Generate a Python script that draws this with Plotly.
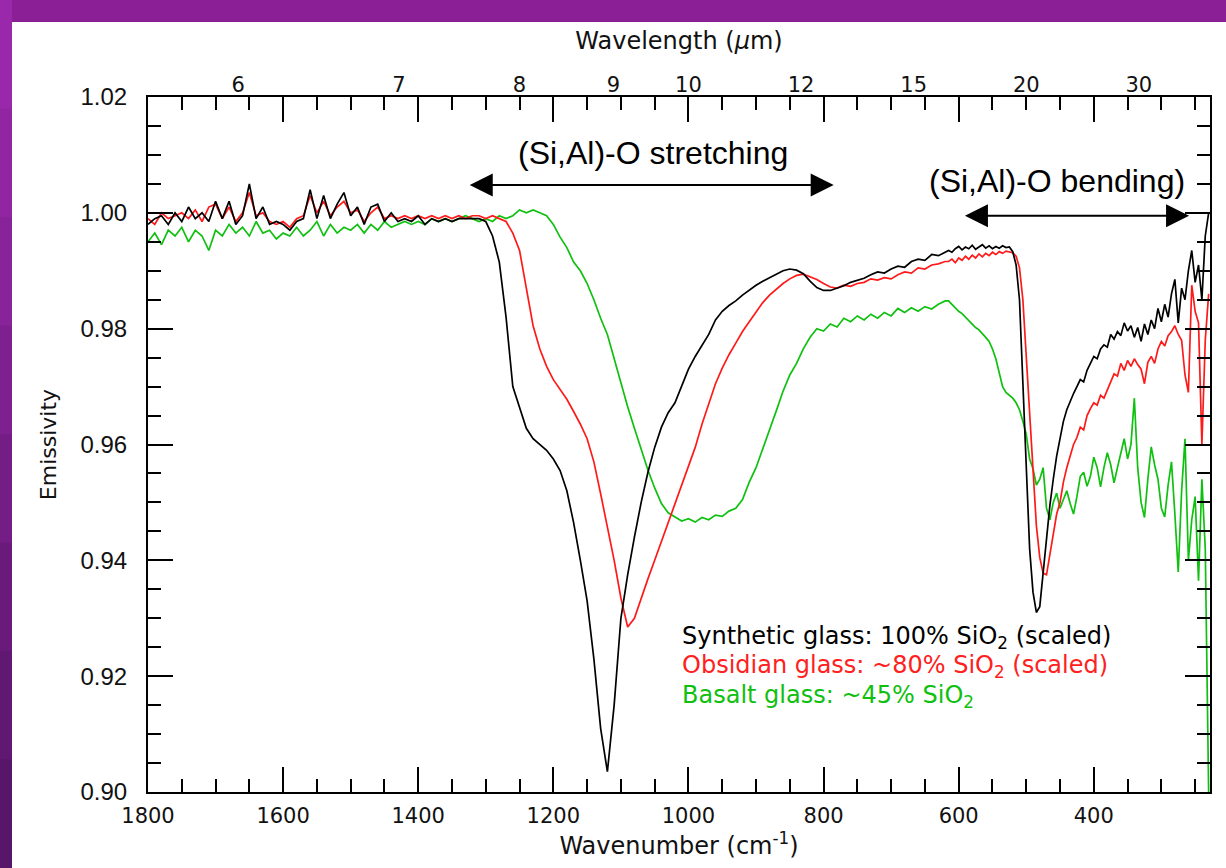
import plotly.graph_objects as go

# ---------------- data ----------------
wavenumber = list(range(1800, 1319, -10)) + list(range(1310, 619, -10)) + list(range(615, 229, -5))

synthetic = [
    # 1800-1320 step 10
    0.998, 0.999, 0.9995, 0.998, 1.000, 0.9985, 1.001, 0.999, 1.000, 0.9985,
    1.002, 0.999, 1.002, 0.998, 0.9995, 1.005, 0.999, 1.001, 0.998, 0.9985,
    0.998, 0.997, 0.9985, 0.999, 1.004, 0.999, 1.003, 0.999, 1.0015, 1.0035,
    0.9995, 1.001, 0.998, 1.001, 1.0015, 0.9985, 1.000, 0.9985, 0.999, 0.9985,
    0.9995, 0.998, 0.999, 0.9985, 0.999, 0.9985, 0.999, 0.999, 0.999,
    # 1310-620 step 10
    0.9990, 0.9985, 0.9960, 0.9915, 0.9820, 0.9700, 0.9665, 0.9628, 0.9610, 0.9600,
    0.9590, 0.9575, 0.9555, 0.9520, 0.9465, 0.9400, 0.9330, 0.9230, 0.9110, 0.9035,
    0.9150, 0.9300, 0.9375, 0.9440, 0.9500, 0.9552, 0.9595, 0.9630, 0.9655, 0.9672,
    0.9700, 0.9730, 0.9752, 0.9772, 0.9790, 0.9815, 0.9830, 0.9840, 0.9848, 0.9858,
    0.9867, 0.9875, 0.9882, 0.9888, 0.9895, 0.9900, 0.9903, 0.9901, 0.9895, 0.9882,
    0.9871, 0.9866, 0.9866, 0.9870, 0.9874, 0.9880, 0.9883, 0.9887, 0.9893, 0.9898,
    0.9896, 0.9903, 0.9908, 0.9906, 0.9916, 0.9920, 0.9918, 0.9928, 0.9926, 0.9932,
    # 615-230 step 5
    0.9935, 0.9932, 0.9938, 0.9942, 0.9936, 0.9941, 0.9938, 0.9944, 0.9937, 0.9941,
    0.9945, 0.9939, 0.9943, 0.9938, 0.9942, 0.9939, 0.9943, 0.9940, 0.9941, 0.9933,
    0.9910, 0.9850, 0.9700, 0.9540, 0.9420, 0.9345, 0.9310, 0.9320, 0.9380, 0.9440,
    0.9495, 0.9540, 0.9580, 0.9610, 0.9640, 0.9660, 0.9675, 0.9688, 0.9700, 0.9712,
    0.9708, 0.9728, 0.9740, 0.9752, 0.9748, 0.9765, 0.9772, 0.9768, 0.9790, 0.9782,
    0.9795, 0.9788, 0.9810, 0.9796, 0.9805, 0.9785, 0.9802, 0.9778, 0.9808, 0.9790,
    0.9815, 0.9800, 0.9835, 0.9812, 0.9842, 0.9820, 0.9860, 0.9885, 0.9810, 0.9870,
    0.9850, 0.9900, 0.9935, 0.9880, 0.9910, 0.9850, 0.9960, 1.0000,
]

obsidian = [
    0.999, 0.998, 1.000, 0.999, 0.9995, 1.000, 0.999, 1.0005, 0.9985, 1.001,
    1.0015, 0.999, 1.001, 0.9985, 1.000, 1.0035, 0.9995, 1.000, 0.9985, 0.998,
    0.9985, 0.9975, 0.999, 0.9995, 1.003, 1.000, 1.002, 0.9995, 1.001, 1.002,
    1.000, 1.0005, 0.9985, 1.000, 1.001, 0.999, 0.9995, 0.999, 0.9995, 0.999,
    0.9995, 0.999, 0.9995, 0.999, 0.9995, 0.999, 0.9995, 0.999, 0.9995,
    0.9995, 0.9990, 0.9995, 0.9990, 0.9985, 0.9965, 0.9935, 0.9870, 0.9805, 0.9765,
    0.9735, 0.9712, 0.9695, 0.9678, 0.9657, 0.9635, 0.9610, 0.9570, 0.9515, 0.9460,
    0.9400, 0.9335, 0.9285, 0.9300, 0.9335, 0.9368, 0.9400, 0.9432, 0.9465, 0.9497,
    0.9528, 0.9560, 0.9595, 0.9635, 0.9672, 0.9705, 0.9732, 0.9755, 0.9775, 0.9795,
    0.9812, 0.9828, 0.9845, 0.9858, 0.9868, 0.9878, 0.9886, 0.9892, 0.9894, 0.9889,
    0.9885, 0.9878, 0.9872, 0.9870, 0.9875, 0.9873, 0.9878, 0.9880, 0.9886, 0.9884,
    0.9888, 0.9886, 0.9893, 0.9898, 0.9896, 0.9905, 0.9903, 0.9910, 0.9912, 0.9916,
    0.9916, 0.9920, 0.9914, 0.9922, 0.9918, 0.9925, 0.9920, 0.9927, 0.9922, 0.9929,
    0.9924, 0.9930, 0.9926, 0.9932, 0.9928, 0.9933, 0.9930, 0.9934, 0.9932, 0.9931,
    0.9925, 0.9905, 0.9850, 0.9750, 0.9640, 0.9540, 0.9460, 0.9405, 0.9378, 0.9375,
    0.9410, 0.9445, 0.9480, 0.9500, 0.9535, 0.9560, 0.9580, 0.9600, 0.9612, 0.9630,
    0.9625, 0.9650, 0.9662, 0.9672, 0.9668, 0.9685, 0.9680, 0.9695, 0.9710, 0.9722,
    0.9718, 0.9740, 0.9728, 0.9745, 0.9735, 0.9748, 0.9738, 0.9730, 0.9705, 0.9742,
    0.9752, 0.9740, 0.9765, 0.9778, 0.9770, 0.9788, 0.9795, 0.9805, 0.9790, 0.9780,
    0.9720, 0.9690, 0.9875, 0.9830, 0.9810, 0.9600, 0.9780, 0.9860,
]

basalt = [
    0.995, 0.9965, 0.9945, 0.997, 0.996, 0.9975, 0.995, 0.997, 0.996, 0.9935,
    0.997, 0.996, 0.998, 0.9965, 0.9975, 0.996, 0.9985, 0.9965, 0.997, 0.9955,
    0.9965, 0.996, 0.9975, 0.996, 0.997, 0.9985, 0.996, 0.998, 0.9965, 0.9975,
    0.997, 0.998, 0.9965, 0.998, 0.997, 0.9985, 0.9975, 0.998, 0.9985, 0.998,
    0.9985, 0.998, 0.999, 0.9985, 0.999, 0.9985, 0.999, 0.9995, 0.999,
    0.9985, 0.9990, 0.9985, 0.9995, 0.9990, 0.9995, 1.0005, 1.0000, 1.0005, 1.0000,
    0.9995, 0.9980, 0.9958, 0.9940, 0.9915, 0.9900, 0.9878, 0.9850, 0.9818, 0.9790,
    0.9748, 0.9710, 0.9665, 0.9628, 0.9590, 0.9556, 0.9525, 0.9498, 0.9482, 0.9475,
    0.9468, 0.9472, 0.9466, 0.9474, 0.9470, 0.9478, 0.9476, 0.9485, 0.9490, 0.9505,
    0.9535, 0.9560, 0.9592, 0.9625, 0.9658, 0.9692, 0.9720, 0.9740, 0.9765, 0.9785,
    0.9800, 0.9796, 0.9808, 0.9803, 0.9818, 0.9812, 0.9822, 0.9815, 0.9825, 0.9818,
    0.9828, 0.9822, 0.9835, 0.9828, 0.9836, 0.9830, 0.9838, 0.9834, 0.9842, 0.9848,
    0.9848, 0.9842, 0.9836, 0.9830, 0.9826, 0.9820, 0.9815, 0.9808, 0.9802, 0.9798,
    0.9792, 0.9785, 0.9778, 0.9765, 0.9748, 0.9725, 0.9700, 0.9690, 0.9685, 0.9680,
    0.9672, 0.9660, 0.9640, 0.9618, 0.9575, 0.9558, 0.9530, 0.9540, 0.9560, 0.9490,
    0.9470, 0.9500, 0.9516, 0.9490, 0.9505, 0.9520, 0.9498, 0.9480, 0.9510, 0.9545,
    0.9552, 0.9528, 0.9545, 0.9578, 0.9560, 0.9527, 0.9560, 0.9586, 0.9565, 0.9534,
    0.9560, 0.9585, 0.9610, 0.9575, 0.9600, 0.9680, 0.9560, 0.9500, 0.9474, 0.9540,
    0.9596, 0.9565, 0.9540, 0.9490, 0.9475, 0.9530, 0.9570, 0.9480, 0.9380, 0.9520,
    0.9610, 0.9400, 0.9470, 0.9510, 0.9365, 0.9540, 0.9420, 0.9000,
]

wavelength_ticks = [6, 7, 8, 9, 10, 12, 15, 20, 30]
wavenumber_ticks = [1800, 1600, 1400, 1200, 1000, 800, 600, 400]
legend_lines = [
    ("Synthetic glass: 100% SiO<sub>2</sub> (scaled)", "#000000"),
    ("Obsidian glass: ~80% SiO<sub>2</sub> (scaled)", "#ff2020"),
    ("Basalt glass: ~45% SiO<sub>2</sub>", "#10c010"),
]

# ---------------- figure ----------------
W, H = 1226, 868
ML, MR, MT, MB = 148, 16, 97, 76
XR = [1800, 228]
YR = [0.90, 1.02]

fig = go.Figure()
fig.add_trace(go.Scatter(x=wavenumber, y=basalt, mode="lines",
                         line=dict(color="#10c010", width=1.7), hoverinfo="skip"))
fig.add_trace(go.Scatter(x=wavenumber, y=obsidian, mode="lines",
                         line=dict(color="#ff1a1a", width=1.7), hoverinfo="skip"))
fig.add_trace(go.Scatter(x=wavenumber, y=synthetic, mode="lines",
                         line=dict(color="#000000", width=1.7), hoverinfo="skip"))
fig.add_trace(go.Scatter(x=[], y=[], xaxis="x2", mode="lines", hoverinfo="skip"))

tick_font = dict(family="DejaVu Sans", size=21, color="#111")
title_font = dict(family="DejaVu Sans", size=24, color="#111")

fig.update_layout(
    width=W, height=H,
    margin=dict(l=ML, r=MR, t=MT, b=MB),
    paper_bgcolor="white", plot_bgcolor="white",
    showlegend=False,
    xaxis=dict(
        range=XR, tickmode="array", tickvals=wavenumber_ticks,
        ticks="inside", ticklen=25, tickwidth=1.5, tickcolor="black",
        minor=dict(tick0=0, dtick=50, ticks="inside", ticklen=13, tickwidth=1.5, tickcolor="black"),
        showline=True, linecolor="black", linewidth=2, mirror="ticks",
        showgrid=False, zeroline=False,
        tickfont=tick_font, ticklabelstandoff=4,
        title=dict(text="Wavenumber (cm<sup>-1</sup>)", font=title_font, standoff=3),
        automargin=False,
    ),
    xaxis2=dict(
        range=XR, overlaying="x", side="top", anchor="y",
        tickmode="array", tickvals=[10000 / l for l in wavelength_ticks],
        ticktext=[str(l) for l in wavelength_ticks],
        ticks="", showline=False, showgrid=False, zeroline=False,
        tickfont=tick_font,
        title=dict(text="Wavelength (<i>µ</i>m)", font=title_font, standoff=16),
        automargin=False,
    ),
    yaxis=dict(
        range=YR, tickmode="linear", tick0=0.90, dtick=0.02, tickformat=".2f",
        ticks="inside", ticklen=25, tickwidth=1.5, tickcolor="black",
        minor=dict(dtick=0.005, ticks="inside", ticklen=13, tickwidth=1.5, tickcolor="black"),
        showline=True, linecolor="black", linewidth=2, mirror="ticks",
        showgrid=False, zeroline=False,
        tickfont=dict(family="Liberation Sans", size=24, color="#111"), ticklabelstandoff=14,
        title=dict(text="Emissivity", font=dict(family="DejaVu Sans", size=22, color="#111"), standoff=18),
        automargin=False,
    ),
)

# purple frame of the slide (margin decoration)
pw = W - ML - MR
ph = H - MT - MB
def px_x(X):
    return (X - ML) / pw
def px_y(Y):
    return (H - MB - Y) / ph
fig.add_shape(type="rect", xref="paper", yref="paper", layer="below",
              x0=px_x(0), x1=px_x(W), y0=px_y(22), y1=px_y(0),
              fillcolor="#8a1f96", line_width=0)
left_cols = ["#9a28aa", "#9226a2", "#89239a", "#7f2090", "#741d85", "#6a1a7b", "#601872", "#57166a"]
seg = H / len(left_cols)
for i, c in enumerate(left_cols):
    fig.add_shape(type="rect", xref="paper", yref="paper", layer="below",
                  x0=px_x(0), x1=px_x(12), y0=px_y(i * seg + seg + 1), y1=px_y(i * seg),
                  fillcolor=c, line_width=0)

# band annotations with double arrows
ann_font = dict(family="Liberation Sans", size=32, color="black")
fig.add_annotation(x=1053, y=1.0103, xref="x", yref="y", text="(Si,Al)-O stretching",
                   showarrow=False, font=ann_font)
fig.add_annotation(x=785, y=1.0048, ax=1326, ay=1.0048, xref="x", yref="y", axref="x", ayref="y",
                   text="", showarrow=True, arrowhead=2, startarrowhead=2, arrowside="end+start",
                   arrowwidth=2, arrowsize=2.3, arrowcolor="black")
fig.add_annotation(x=455, y=1.0055, xref="x", yref="y", text="(Si,Al)-O bending)",
                   showarrow=False, font=ann_font)
fig.add_annotation(x=259, y=0.9995, ax=593, ay=0.9995, xref="x", yref="y", axref="x", ayref="y",
                   text="", showarrow=True, arrowhead=2, startarrowhead=2, arrowside="end+start",
                   arrowwidth=2, arrowsize=2.3, arrowcolor="black")

# legend text
for i, (txt, col) in enumerate(legend_lines):
    fig.add_annotation(x=1012, y=0.9267 - i * 0.0051, xref="x", yref="y", xanchor="left",
                       text=txt, showarrow=False,
                       font=dict(family="DejaVu Sans", size=24, color=col))

fig.write_html("out.html")
